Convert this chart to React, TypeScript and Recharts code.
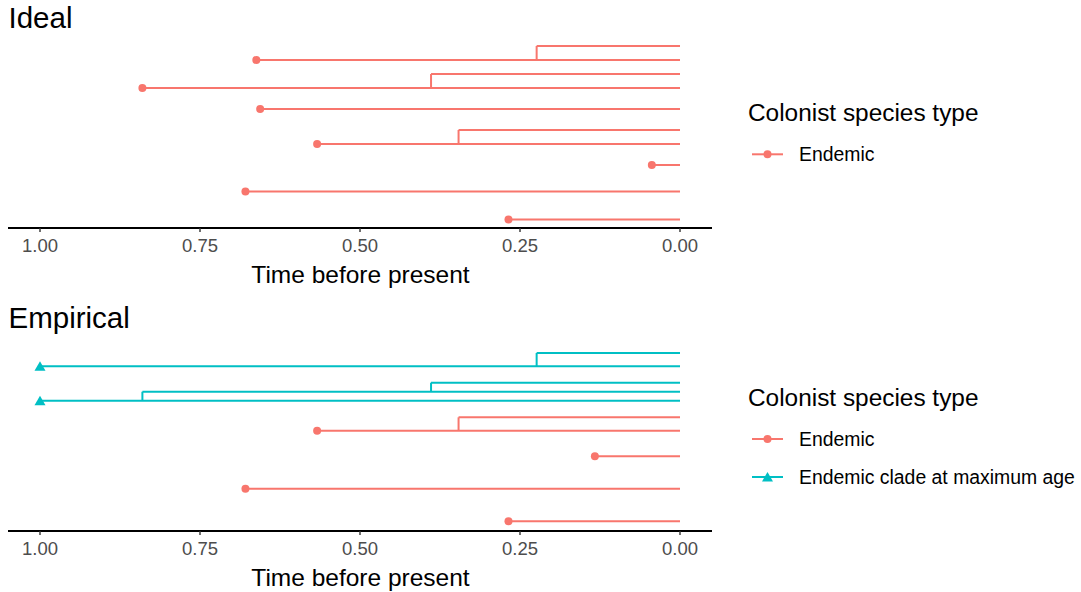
import React from 'react';
import { ComposedChart, Line, Scatter, XAxis, YAxis } from 'recharts';

const FONT = '"Liberation Sans", Arial, sans-serif';
const RED = '#F8766D';
const TEAL = '#00BFC4';

const timeTicks = [1, 0.75, 0.5, 0.25, 0];

// Ideal panel: one branch per tip row
const idealStart = [0.224, 0.662, 0.389, 0.84, 0.656, 0.346, 0.567, 0.044, 0.679, 0.268];
const idealRow = [26, 24, 22, 20, 17, 14, 12, 9, 5.2, 1.2];
const idealType = ['Endemic', 'Endemic', 'Endemic', 'Endemic', 'Endemic', 'Endemic', 'Endemic', 'Endemic', 'Endemic', 'Endemic'];
const idealMarker = [false, true, false, true, true, false, true, true, true, true];
// nodes joining two rows
const idealNodeAge = [0.224, 0.389, 0.346];
const idealNodeTop = [26, 22, 14];
const idealNodeBottom = [24, 20, 12];
const idealNodeType = ['Endemic', 'Endemic', 'Endemic'];

// Empirical panel
const empStart = [0.224, 1.0, 0.389, 0.84, 1.0, 0.346, 0.567, 0.133, 0.679, 0.268];
const empRow = [25.43, 23.53, 21.19, 19.9, 18.61, 16.24, 14.33, 10.67, 6.04, 1.39];
const empType = ['Clade', 'Clade', 'Clade', 'Clade', 'Clade', 'Endemic', 'Endemic', 'Endemic', 'Endemic', 'Endemic'];
const empMarker = [false, true, false, false, true, false, true, true, true, true];
const empNodeAge = [0.224, 0.389, 0.84, 0.346];
const empNodeTop = [25.43, 21.19, 19.9, 16.24];
const empNodeBottom = [23.53, 19.9, 18.61, 14.33];
const empNodeType = ['Clade', 'Clade', 'Clade', 'Endemic'];

const colorOf = (t: string) => (t === 'Clade' ? TEAL : RED);

const Dot = (props: any) => <circle cx={props.cx} cy={props.cy} r={4} fill={RED} />;
const Tri = (props: any) => {
  const { cx, cy } = props;
  return <polygon points={`${cx - 5.5},${cy + 4.5} ${cx + 5.5},${cy + 4.5} ${cx},${cy - 5}`} fill={TEAL} />;
};

interface PanelProps {
  start: number[];
  row: number[];
  type: string[];
  marker: boolean[];
  nodeAge: number[];
  nodeTop: number[];
  nodeBottom: number[];
  nodeType: string[];
}

const TreePanel = ({ start, row, type, marker, nodeAge, nodeTop, nodeBottom, nodeType }: PanelProps) => {
  const branches = start.map((s, i) => ({
    data: [{ x: s, y: row[i] }, { x: 0, y: row[i] }],
    color: colorOf(type[i]),
  }));
  const nodes = nodeAge.map((a, i) => ({
    data: [{ x: a, y: nodeTop[i] }, { x: a, y: nodeBottom[i] }],
    color: colorOf(nodeType[i]),
  }));
  const endemicPts = start
    .map((s, i) => ({ x: s, y: row[i], keep: marker[i] && type[i] === 'Endemic' }))
    .filter((p) => p.keep);
  const cladePts = start
    .map((s, i) => ({ x: s, y: row[i], keep: marker[i] && type[i] === 'Clade' }))
    .filter((p) => p.keep);

  return (
    <ComposedChart width={720} height={300} margin={{ top: 40, right: 8, left: 8, bottom: 0 }}>
      <XAxis
        type="number"
        dataKey="x"
        domain={[-0.05, 1.05]}
        reversed
        allowDataOverflow
        ticks={timeTicks}
        interval={0}
        tickFormatter={(v: number) => v.toFixed(2)}
        axisLine={{ stroke: '#000', strokeWidth: 2 }}
        tickLine={{ stroke: '#333', strokeWidth: 1.4 }}
        tickSize={4}
        tickMargin={7}
        tick={{ fill: '#4D4D4D', fontSize: 18.5, fontFamily: FONT }}
        height={72}
      />
      <YAxis type="number" dataKey="y" domain={[0, 26.86]} allowDataOverflow hide />
      {branches.map((b, i) => (
        <Line
          key={'b' + i}
          data={b.data}
          dataKey="y"
          type="linear"
          stroke={b.color}
          strokeWidth={2}
          dot={false}
          activeDot={false}
          isAnimationActive={false}
        />
      ))}
      {nodes.map((n, i) => (
        <Line
          key={'n' + i}
          data={n.data}
          dataKey="y"
          type="linear"
          stroke={n.color}
          strokeWidth={2}
          dot={false}
          activeDot={false}
          isAnimationActive={false}
        />
      ))}
      <Scatter data={endemicPts} dataKey="y" shape={Dot} isAnimationActive={false} />
      {cladePts.length > 0 && <Scatter data={cladePts} dataKey="y" shape={Tri} isAnimationActive={false} />}
    </ComposedChart>
  );
};

export default function App() {
  return (
    <div style={{ position: 'absolute', left: 0, top: 0, width: 1081, height: 592, background: '#fff', fontFamily: FONT }}>
      <div style={{ position: 'absolute', left: 0, top: 0 }}>
        <TreePanel
          start={idealStart}
          row={idealRow}
          type={idealType}
          marker={idealMarker}
          nodeAge={idealNodeAge}
          nodeTop={idealNodeTop}
          nodeBottom={idealNodeBottom}
          nodeType={idealNodeType}
        />
      </div>
      <div style={{ position: 'absolute', left: 0, top: 303 }}>
        <TreePanel
          start={empStart}
          row={empRow}
          type={empType}
          marker={empMarker}
          nodeAge={empNodeAge}
          nodeTop={empNodeTop}
          nodeBottom={empNodeBottom}
          nodeType={empNodeType}
        />
      </div>
      <svg width={1081} height={592} style={{ position: 'absolute', left: 0, top: 0, pointerEvents: 'none' }} fontFamily={FONT}>
        <text x={8.5} y={27.5} fontSize={29.5} fill="#000">Ideal</text>
        <text x={8.5} y={327.5} fontSize={29.5} fill="#000">Empirical</text>
        <text x={360.5} y={283.3} fontSize={24.5} textAnchor="middle" fill="#000">Time before present</text>
        <text x={360.5} y={586.3} fontSize={24.5} textAnchor="middle" fill="#000">Time before present</text>

        {/* legend, ideal */}
        <text x={748} y={121} fontSize={24.4} fill="#000">Colonist species type</text>
        <line x1={752} y1={154.3} x2={783} y2={154.3} stroke={RED} strokeWidth={2} />
        <circle cx={767.5} cy={154.3} r={4} fill={RED} />
        <text x={799} y={160.5} fontSize={19.4} fill="#000">Endemic</text>

        {/* legend, empirical */}
        <text x={748} y={406} fontSize={24.4} fill="#000">Colonist species type</text>
        <line x1={752} y1={439} x2={783} y2={439} stroke={RED} strokeWidth={2} />
        <circle cx={767.5} cy={439} r={4} fill={RED} />
        <text x={799} y={445.5} fontSize={19.4} fill="#000">Endemic</text>
        <line x1={752} y1={477} x2={783} y2={477} stroke={TEAL} strokeWidth={2} />
        <polygon points="762,481.5 773,481.5 767.5,472" fill={TEAL} />
        <text x={799} y={484} fontSize={19.4} fill="#000">Endemic clade at maximum age</text>
      </svg>
    </div>
  );
}
